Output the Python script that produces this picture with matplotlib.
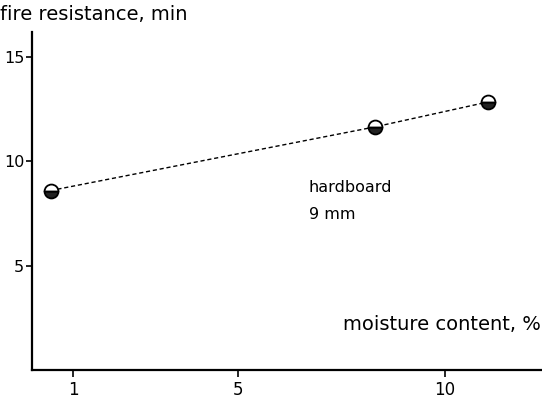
import matplotlib
matplotlib.use('Agg')
import matplotlib.pyplot as plt

# moisture content (%) vs fire resistance (min), hardboard 9 mm
moisture = [0.45, 8.3, 11.05]
fire_resistance = [8.6, 11.65, 12.85]

x_ticks = [1, 5, 10]
y_ticks = [5, 10, 15]

fig = plt.figure(figsize=(5.42, 4.04), dpi=100)
ax = fig.add_axes([32 / 542, 34 / 404, 510 / 542, 338 / 404])

ax.plot(moisture, fire_resistance, color='black', linestyle=(0, (3, 2)), linewidth=1.0,
        marker='o', markersize=10, fillstyle='bottom', markerfacecolor='#222222',
        markerfacecoloralt='white', markeredgecolor='black', markeredgewidth=1.3,
        clip_on=False)

ax.set_xlim(0, 12.35)
ax.set_ylim(0, 16.2)
ax.set_xticks(x_ticks)
ax.set_yticks(y_ticks)

for side in ['top', 'right']:
    ax.spines[side].set_visible(False)
for side in ['left', 'bottom']:
    ax.spines[side].set_linewidth(1.6)

ax.tick_params(axis='y', direction='out', length=4, width=1.2, labelsize=11.5, pad=1.5)
ax.tick_params(axis='x', direction='out', length=5, width=1.2, labelsize=12, pad=3)

fig.text(0.0, 1 - 15 / 404, 'fire resistance, min', fontsize=14, va='center', ha='left')
ax.text(0.998, 0.135, 'moisture content, %', transform=ax.transAxes, fontsize=14,
        ha='right', va='center')
ax.text(6.7, 8.75, 'hardboard', fontsize=11.5, ha='left', va='center')
ax.text(6.7, 7.45, '9 mm', fontsize=11.5, ha='left', va='center')

plt.savefig('out.png', dpi=100)
